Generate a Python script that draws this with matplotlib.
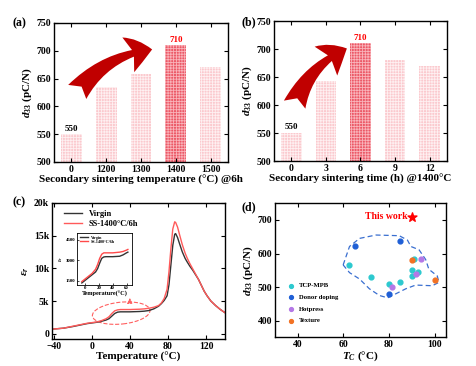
import numpy as np
import matplotlib
matplotlib.use('Agg')
import matplotlib.pyplot as plt
from matplotlib.patches import FancyArrowPatch, Ellipse

plt.rcParams['font.family'] = ['Liberation Serif', 'DejaVu Serif']
plt.rcParams['font.weight'] = 'bold'
plt.rcParams['axes.labelweight'] = 'bold'
plt.rcParams['mathtext.fontset'] = 'custom'
plt.rcParams['mathtext.rm'] = 'Liberation Serif:bold'
plt.rcParams['mathtext.it'] = 'Liberation Serif:bold:italic'
plt.rcParams['mathtext.bf'] = 'Liberation Serif:bold'
plt.rcParams['hatch.linewidth'] = 0.6

# ---- data ----
temp_labels = ['0', '1200', '1300', '1400', '1500']
d33_temp = [550, 635, 658, 710, 670]
time_labels = ['0', '3', '6', '9', '12']
d33_time = [550, 642, 710, 680, 670]

T_main = [-42, -30, -20, -10, -5, 0, 5, 10, 15, 18, 21, 24, 27, 30, 40, 50, 55, 60,
          65, 70, 73, 76, 79, 81, 83, 85, 87, 88, 90, 92, 95, 98, 100, 103, 106, 109,
          112, 115, 118, 121, 125, 130, 135, 140]
eps_virgin = [700, 850, 1100, 1400, 1550, 1650, 1750, 1900, 2100, 2300, 2700, 3100, 3300,
              3350, 3350, 3400, 3450, 3550, 3800, 4200, 4600, 5100, 5800, 7500, 10500,
              13500, 15200, 15300, 14700, 13800, 12500, 11500, 11000, 10300, 9700, 9000,
              8300, 7400, 6500, 5800, 5000, 4300, 3700, 3200]
eps_ss = [700, 850, 1150, 1450, 1600, 1700, 1800, 2000, 2300, 2600, 3100, 3500, 3650,
          3700, 3700, 3750, 3800, 3900, 4050, 4300, 4700, 5400, 6800, 9500, 13000, 16000,
          17100, 17000, 16300, 15200, 13600, 12300, 11600, 10700, 9900, 9100, 8300, 7400,
          6500, 5800, 5000, 4300, 3700, 3200]

T_inset = [-5, 0, 5, 10, 15, 18, 21, 24, 27, 30, 40, 50, 55, 60, 62]
eps_virgin_inset = [1350, 1550, 1750, 1950, 2150, 2400, 2800, 3150, 3250, 3270, 3270,
                    3300, 3400, 3550, 3600]
eps_ss_inset = [1450, 1650, 1850, 2050, 2350, 2700, 3150, 3450, 3550, 3550, 3550, 3600,
                3650, 3750, 3800]

tcp_tc = [62.3, 72.2, 80.1, 84.9, 89.9, 89.9, 91.0, 92.9]
tcp_d33 = [567, 529, 509, 514, 551, 532, 585, 545]
donor_tc = [65.2, 84.9, 80.1]
donor_d33 = [622, 638, 480]
hot_tc = [81.2, 93.9, 92.0]
hot_d33 = [501, 585, 539]
tex_tc = [89.9, 100.0]
tex_d33 = [580, 521]
this_tc = [90]
this_d33 = [710]

outline_tc = [59.9, 62.7, 67.1, 74.3, 84.5, 88.1, 89.6, 93.2, 96.1, 97.5, 101.2, 101.9,
              99.0, 91.7, 87.4, 83.0, 79.4, 75.8, 71.4, 67.1, 62.7, 59.9]
outline_d33 = [566, 621, 645, 655, 653, 640, 621, 611, 582, 553, 533, 514, 504, 506,
               495, 480, 468, 475, 495, 524, 543, 566]

TICK_FS = 7
LABEL_FS = 8


def style_axes(ax, fs=TICK_FS):
    ax.tick_params(direction='in', top=True, right=True, labelsize=fs, length=3,
                   width=0.8, pad=2)
    for s in ax.spines.values():
        s.set_linewidth(1.0)
    for t in ax.get_xticklabels() + ax.get_yticklabels():
        t.set_fontweight('bold')


def bar_panel(ax, labels, vals, hi, xlabel, arrow_from, arrow_to):
    x = np.arange(len(vals))
    for i, v in enumerate(vals):
        if i == hi:
            fc, hc = '#ec5866', '#f9b3ba'
        else:
            fc, hc = '#fbc9ce', '#fef0f1'
        ax.bar(x[i], v - 500, bottom=500, width=0.6, color=fc, edgecolor=hc,
               linewidth=0, hatch='++++++')
    ax.set_xlim(-0.5, len(vals) - 0.5)
    ax.set_ylim(500, 750)
    ax.set_xticks(x)
    ax.set_xticklabels(labels)
    ax.set_yticks([500, 550, 600, 650, 700, 750])
    ax.set_ylabel(r'$d_{33}$ (pC/N)', fontsize=LABEL_FS, labelpad=2)
    ax.set_xlabel(xlabel, fontsize=LABEL_FS, labelpad=1)
    ax.text(0, vals[0] + 3, str(vals[0]), ha='center', va='bottom', fontsize=6.5)
    ax.text(hi, vals[hi] + 3, str(vals[hi]), ha='center', va='bottom', fontsize=6.5,
            color='red')
    arr = FancyArrowPatch(arrow_from, arrow_to,
                          arrowstyle='fancy,head_width=1.2,head_length=0.8,tail_width=0.75',
                          connectionstyle='arc3,rad=-0.22', mutation_scale=22,
                          color='#c00000', lw=0, zorder=5)
    ax.add_patch(arr)
    style_axes(ax)


fig = plt.figure(figsize=(4.76, 3.66), dpi=100)

ax_a = fig.add_axes([0.1134, 0.5574, 0.3655, 0.3798])
bar_panel(ax_a, temp_labels, d33_temp, 3,
          'Secondary sintering temperature (°C) @6h', (0.12, 622), (2.4, 703))
ax_b = fig.add_axes([0.5756, 0.5601, 0.3634, 0.3825])
bar_panel(ax_b, time_labels, d33_time, 2,
          'Secondary sintering time (h) @1400°C', (0.07, 596), (1.68, 703))

# ---- (c) ----
ax_c = fig.add_axes([0.109, 0.0738, 0.364, 0.372])
ax_c.plot(T_main, eps_virgin, color='#333333', lw=1.0, label='Virgin')
ax_c.plot(T_main, eps_ss, color='#ff5a5a', lw=1.0, label='SS-1400°C/6h')
ax_c.set_xlim(-42, 140)
ax_c.set_ylim(-800, 20000)
ax_c.set_xticks([-40, 0, 40, 80, 120])
ax_c.set_yticks([0, 5000, 10000, 15000, 20000])
ax_c.set_yticklabels(['0', '5k', '10k', '15k', '20k'])
ax_c.set_xlabel('Temperature (°C)', fontsize=LABEL_FS, labelpad=1)
ax_c.set_ylabel(r'$\varepsilon_r$', fontsize=LABEL_FS, labelpad=2)
ax_c.legend(loc='upper left', frameon=False, fontsize=6, handlelength=2.2,
            borderaxespad=0.4, labelspacing=0.3, bbox_to_anchor=(0.03, 1.0))
style_axes(ax_c)
ell = Ellipse((0.40, 0.19), 0.335, 0.16, angle=8, transform=ax_c.transAxes,
              fill=False, ls='--', lw=0.8, color='#ff6060')
ax_c.add_patch(ell)
ax_c.annotate('', xy=(0.45, 0.32), xytext=(0.45, 0.265), xycoords='axes fraction',
              arrowprops=dict(arrowstyle='-|>', ls='--', color='#ff6060', lw=0.8,
                              mutation_scale=7))

ins = fig.add_axes([77 / 476, 1 - 285 / 366, 55 / 476, 52 / 366])
ins.plot(T_inset, eps_virgin_inset, color='#333333', lw=1.0, label='Virgin')
ins.plot(T_inset, eps_ss_inset, color='#ff4a4a', lw=1.0, label='SS-1400°C/6h')
ins.set_xlim(-12, 68)
ins.set_ylim(1200, 5000)
ins.set_xticks([0, 20, 40, 60])
ins.set_yticks([1500, 3000, 4500])
ins.tick_params(direction='in', labelsize=3.5, length=1.5, width=0.5, pad=1)
ins.set_xlabel('Temperature(°C)', fontsize=4.5, labelpad=0.5)
ins.set_ylabel(r'$\varepsilon_r$', fontsize=4, labelpad=0.5)
ins.legend(loc='upper left', frameon=False, fontsize=3, handlelength=2, borderaxespad=0.2,
           labelspacing=0.1)
for s in ins.spines.values():
    s.set_linewidth(0.6)

# ---- (d) ----
ax_d = fig.add_axes([0.5777, 0.078, 0.3592, 0.367])
ax_d.plot(outline_tc, outline_d33, ls=(0, (4, 2.5)), color='#3a6fd0', lw=0.9)
ax_d.scatter(tcp_tc, tcp_d33, s=12, color='#2cc9cf', label='TCP-MPB', zorder=3)
ax_d.scatter(donor_tc, donor_d33, s=12, color='#1f5fd6', label='Donor doping', zorder=3)
ax_d.scatter(hot_tc, hot_d33, s=12, color='#b478e6', label='Hotpress', zorder=3)
ax_d.scatter(tex_tc, tex_d33, s=12, color='#f27224', label='Texture', zorder=3)
ax_d.scatter(this_tc, this_d33, s=45, marker='*', color='red', zorder=3)
ax_d.text(this_tc[0] - 2, this_d33[0], 'This work', color='red', fontsize=7,
          ha='right', va='center')
ax_d.set_xlim(30, 105)
ax_d.set_ylim(350, 750)
ax_d.set_xticks([40, 60, 80, 100])
ax_d.set_yticks([400, 500, 600, 700])
ax_d.set_xlabel(r'$T_C$ (°C)', fontsize=LABEL_FS, labelpad=0)
ax_d.set_ylabel(r'$d_{33}$ (pC/N)', fontsize=LABEL_FS, labelpad=2)
ax_d.legend(loc='lower left', frameon=False, fontsize=4.8, handletextpad=0.2,
            markerscale=0.8, labelspacing=0.9, bbox_to_anchor=(0.02, 0.06))
style_axes(ax_d)

for lab, x, y in [('(a)', 0.027, 0.935), ('(b)', 0.508, 0.94),
                  ('(c)', 0.027, 0.448), ('(d)', 0.508, 0.434)]:
    fig.text(x, y, lab, fontsize=8.5, weight='bold', va='center')

fig.savefig('out.png', dpi=100)
